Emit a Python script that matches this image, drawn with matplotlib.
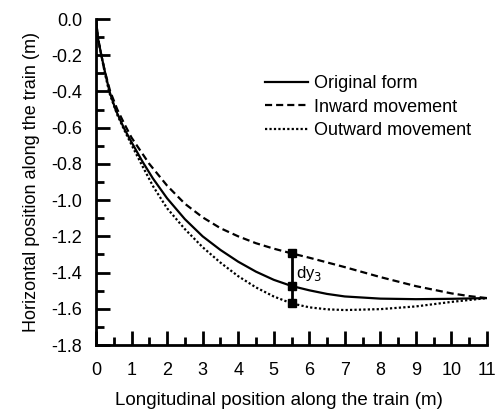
import matplotlib
matplotlib.use("Agg")
import matplotlib.pyplot as plt
from matplotlib.ticker import MultipleLocator, FormatStrFormatter

plt.rcParams['font.family'] = ['Liberation Sans', 'DejaVu Sans']

# Car-body outline in plan view (longitudinal x vs horizontal y, metres)
x_orig = [0.0, 0.05, 0.15, 0.25, 0.38, 0.55, 0.78, 1.0, 1.3, 1.6, 2.0, 2.5, 3.0,
          3.5, 4.0, 4.5, 5.0, 5.5, 6.0, 6.5, 7.0, 8.0, 9.0, 10.0, 11.0]
y_orig = [0.0, -0.10, -0.20, -0.29, -0.40, -0.50, -0.60, -0.68, -0.785, -0.88, -0.99,
          -1.105, -1.20, -1.275, -1.34, -1.395, -1.44, -1.474, -1.498, -1.518, -1.532,
          -1.544, -1.547, -1.545, -1.541]

x_in = [0.0, 0.05, 0.15, 0.25, 0.4, 0.6, 0.8, 1.0, 1.5, 2.0, 2.5, 3.0, 3.5, 4.0,
        4.5, 5.0, 5.5, 6.0, 7.0, 8.0, 9.0, 10.0, 10.5, 11.0]
y_in = [0.0, -0.10, -0.20, -0.29, -0.40, -0.50, -0.58, -0.655, -0.80, -0.92, -1.02,
        -1.095, -1.155, -1.20, -1.238, -1.268, -1.294, -1.318, -1.37, -1.425,
        -1.475, -1.515, -1.53, -1.541]

x_out = [0.0, 0.05, 0.15, 0.25, 0.38, 0.6, 0.8, 1.0, 1.3, 1.61, 2.0, 2.5, 3.0, 3.5,
         4.0, 4.5, 5.0, 5.5, 6.0, 6.5, 7.0, 8.0, 9.0, 10.0, 11.0]
y_out = [0.0, -0.10, -0.20, -0.30, -0.41, -0.53, -0.615, -0.695, -0.81, -0.925,
         -1.045, -1.16, -1.26, -1.345, -1.42, -1.482, -1.532, -1.570, -1.592,
         -1.603, -1.607, -1.602, -1.587, -1.562, -1.541]

# Offset dy3 measured at x = 5.5 m
x_dy = 5.5
y_dy = [-1.294, -1.474, -1.570]

fig = plt.figure(figsize=(5.03, 4.11), dpi=100)
ax = fig.add_axes([96/503, 1 - 345/411, 391/503, 326/411])

ax.plot(x_orig, y_orig, color='black', lw=1.6, ls='-', label='Original form')
ax.plot(x_in, y_in, color='black', lw=1.6, ls=(0, (3.2, 1.8)), label='Inward movement')
ax.plot(x_out, y_out, color='black', lw=1.6, ls=(0, (1, 1)), label='Outward movement')

ax.plot([x_dy] * 3, y_dy, color='black', lw=2, marker='s', markersize=5.5,
        solid_capstyle='butt')
ax.text(5.64, -1.405, r'dy$_3$', fontsize=12, va='center', ha='left')

ax.set_xlim(0, 11)
ax.set_ylim(-1.8, 0)
ax.xaxis.set_major_locator(MultipleLocator(1))
ax.xaxis.set_minor_locator(MultipleLocator(0.5))
ax.yaxis.set_major_locator(MultipleLocator(0.2))
ax.yaxis.set_minor_locator(MultipleLocator(0.1))
ax.yaxis.set_major_formatter(FormatStrFormatter('%.1f'))

for s in ('top', 'right'):
    ax.spines[s].set_visible(False)
for s in ('left', 'bottom'):
    ax.spines[s].set_linewidth(2)

ax.tick_params(which='both', direction='in', width=2, labelsize=13)
ax.tick_params(axis='y', pad=10)
ax.tick_params(axis='x', pad=12)
ax.tick_params(which='major', length=10)
ax.tick_params(which='minor', length=5.5)

ax.set_xlabel('Longitudinal position along the train (m)', fontsize=13.5)
ax.xaxis.set_label_coords(0.468, -0.145)
ax.set_ylabel('Horizontal position along the train (m)', fontsize=13, labelpad=8)

ax.legend(loc='upper left', bbox_to_anchor=(265/503, 1 - 75/411),
          bbox_transform=fig.transFigure, frameon=False, fontsize=13,
          handlelength=2.4, handletextpad=0.33, labelspacing=0.36,
          borderpad=0, borderaxespad=0)

fig.savefig('out.png', dpi=100)
